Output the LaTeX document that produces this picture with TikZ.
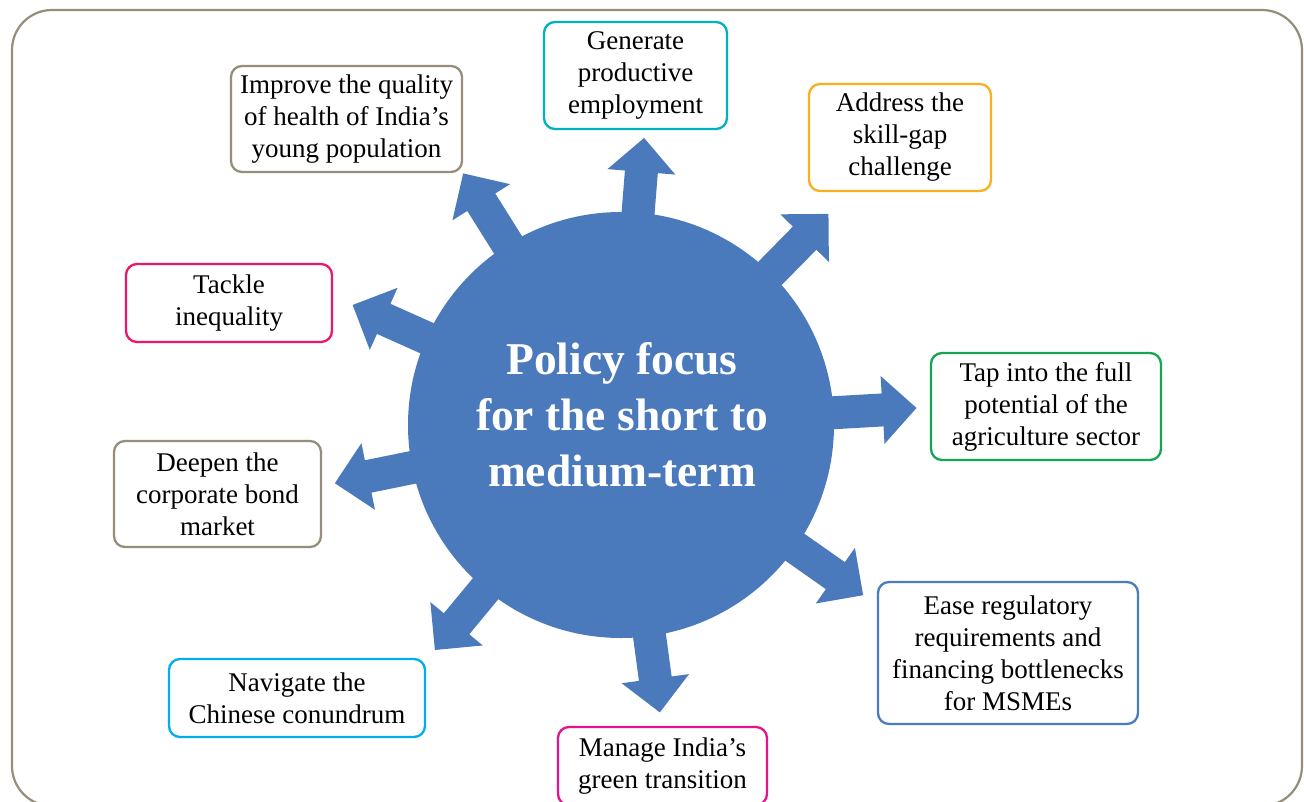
\documentclass[tikz,border=0pt]{standalone}
\usepackage{fontspec}
\setmainfont{Liberation Serif}
\definecolor{pblue}{RGB}{74,122,188}
\definecolor{framec}{RGB}{150,142,122}
\definecolor{cteal}{RGB}{0,178,190}
\definecolor{corange}{RGB}{250,176,30}
\definecolor{cpink}{RGB}{236,22,110}
\definecolor{cgreen}{RGB}{22,165,80}
\definecolor{csky}{RGB}{0,174,239}
\definecolor{cmagenta}{RGB}{230,20,140}
\definecolor{cblue}{RGB}{74,124,192}
\newcommand{\blockarrow}[2]{%
  \fill[pblue, shift={(hub.center)}, rotate=#1]
    (150,-16.5) -- ({#2-34},-16.5) -- ({#2-34},-34) -- (#2,0)
    -- ({#2-34},34) -- ({#2-34},16.5) -- (150,16.5) -- cycle;}
\begin{document}
\begin{tikzpicture}[x=1pt,y=-1pt,
  box/.style={draw, line width=2.3pt, rounded corners=11pt, align=center,
    font=\fontsize{27}{32}\selectfont, inner sep=0pt, fill=white},
  title/.style={text=white, align=center, font=\fontsize{45.5}{56}\selectfont\bfseries}]
\useasboundingbox (0,0) rectangle (1304,801);
\fill[white] (0,0) rectangle (1304,801);
\draw[framec, line width=2.2pt, rounded corners=40pt] (12,10) rectangle (1302,806);
% hub
\node[circle, fill=pblue, minimum size=426pt, inner sep=0pt] (hub) at (621,425) {};
% arrows
\blockarrow{85.4}{288}
\blockarrow{122.1}{297}
\blockarrow{45.5}{296}
\blockarrow{3.3}{296}
\blockarrow{-35.1}{296}
\blockarrow{-82.3}{290}
\blockarrow{-129.6}{292}
\blockarrow{191.5}{292}
\blockarrow{155.9}{294}
\node[title] (t) at (622,415) {Policy focus\\for the short to\\medium-term};
% boxes
\node[box, draw=framec, minimum width=231pt, minimum height=106pt] (improve) at (346.5,119) {Improve the quality\\of health of India’s\\young population};
\node[box, draw=cteal, minimum width=183pt, minimum height=107pt] (generate) at (635.5,75.5) {Generate\\productive\\employment};
\node[box, draw=corange, minimum width=182pt, minimum height=107pt] (skill) at (900,137.5) {Address the\\skill-gap\\challenge};
\node[box, draw=cpink, minimum width=206pt, minimum height=78pt] (tackle) at (229,303) {Tackle\\inequality};
\node[box, draw=cgreen, minimum width=230pt, minimum height=107pt] (tap) at (1046,406.5) {Tap into the full\\potential of the\\agriculture sector};
\node[box, draw=framec, minimum width=207pt, minimum height=106pt] (deepen) at (217.5,494) {Deepen the\\corporate bond\\market};
\node[box, draw=csky, minimum width=256pt, minimum height=78pt] (navigate) at (297,698) {Navigate the\\Chinese conundrum};
\node[box, draw=cmagenta, minimum width=209pt, minimum height=78pt] (manage) at (662.5,766) {Manage India’s\\green transition};
\node[box, draw=cblue, minimum width=260pt, minimum height=142pt] (ease) at (1008,653) {Ease regulatory\\requirements and\\financing bottlenecks\\for MSMEs};
\end{tikzpicture}
\end{document}
